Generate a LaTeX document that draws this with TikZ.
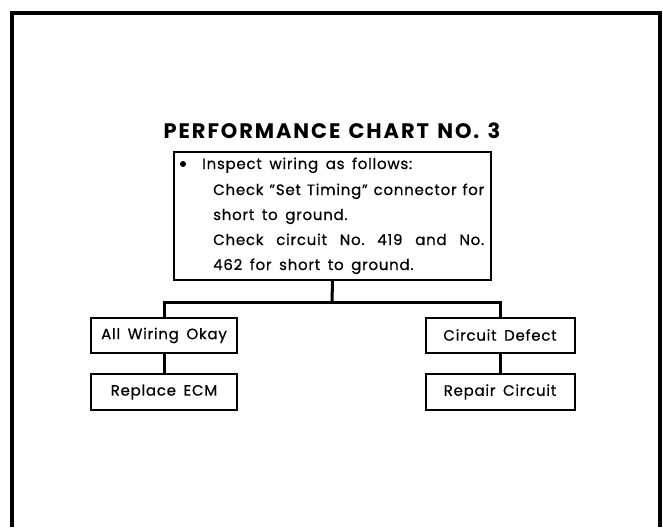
\documentclass[tikz,border=0pt]{standalone}
\usepackage{fontspec}
\setmainfont{Poppins}
\newfontfamily\bodyfont{Poppins}[LetterSpace=5,WordSpace=1.6,FakeBold=0.6]
\newfontfamily\titlefont{Poppins}[LetterSpace=9,WordSpace=1.3]
\frenchspacing
\begin{document}
\begin{tikzpicture}[x=1pt,y=-1pt,
  box/.style={draw,line width=2pt,minimum width=146pt,minimum height=35pt,inner sep=0pt,font=\bodyfont\fontsize{15}{17}\selectfont},
  conn/.style={line width=3pt},
  txt/.style={anchor=base west,inner sep=0pt,font=\bodyfont\fontsize{15}{17}\selectfont}]
\useasboundingbox (0,0) rectangle (663,527);
\coordinate (fbl) at (12,527);
\coordinate (ftl) at (12,13);
\coordinate (ftr) at (660,13);
\coordinate (fbr) at (660,527);
\draw[line width=4pt] (fbl) -- (ftl) -- (ftr) -- (fbr);
\node[anchor=base,inner sep=0pt,font=\titlefont\fontsize{21}{23}\selectfont\bfseries] (title) at (332,138) {PERFORMANCE CHART NO. 3};
\node[draw,line width=2pt,minimum width=317pt,minimum height=128pt,inner sep=0pt] (main) at (332.5,216) {};
\node[circle,fill,inner sep=0pt,minimum size=6pt] (bul) at (183,164) {};
\node[txt] (l1) at (202,169) {Inspect wiring as follows:};
\node[txt] (l2) at (213,195) {\makebox[271pt][s]{Check ”Set Timing” connector for}};
\node[txt] (l3) at (213,220) {short to ground.};
\node[txt] (l4) at (213,245) {\makebox[271pt][s]{Check circuit No. 419 and No.}};
\node[txt] (l5) at (213,270) {462 for short to ground.};
\coordinate (hub) at (332,302);
\node[box] (a1) at (164,335.5) {All Wiring Okay};
\node[box,minimum height=36pt] (a2) at (164,392) {Replace ECM};
\node[box,minimum width=149pt] (c1) at (500,335) {Circuit Defect};
\node[box,minimum width=149pt,minimum height=36pt] (c2) at (500,392) {Repair Circuit};
\draw[conn] (main.south) -- (hub);
\draw[conn] (a1.north) |- (hub) -| (c1.north);
\draw[conn] (a1.south) -- (a2.north);
\draw[conn] (c1.south) -- (c2.north);
\end{tikzpicture}
\end{document}
